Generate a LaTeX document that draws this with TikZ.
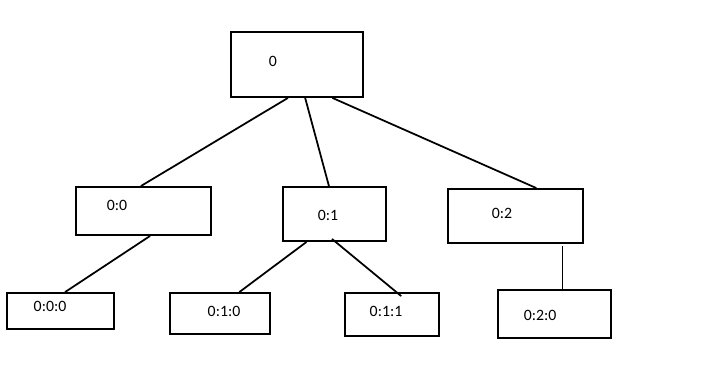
\documentclass[tikz,border=0pt]{standalone}
\usepackage{fontspec}
\setmainfont{Carlito}
\usetikzlibrary{calc}
\tikzset{
  treebox/.style={draw=black, line width=1.6pt, inner sep=0pt},
  boxtext/.style={font=\fontsize{13.5}{15}\selectfont, inner sep=0pt},
  edge/.style={line width=1.5pt, draw=black},
}

\begin{document}
\begin{tikzpicture}[x=0.03cm, y=-0.03cm]
    \useasboundingbox (0,0) rectangle (707,382);
    % boxes
    \node[treebox, minimum width=3.96cm, minimum height=1.95cm] (root) at (297,64.5) {};
    \node[treebox, minimum width=4.05cm, minimum height=1.44cm] (n00) at (143.5,211) {};
    \node[treebox, minimum width=3.09cm, minimum height=1.62cm] (n01) at (334.5,214) {};
    \node[treebox, minimum width=4.05cm, minimum height=1.62cm] (n02) at (515.5,216) {};
    \node[treebox, minimum width=3.21cm, minimum height=1.08cm] (n000) at (60.5,311) {};
    \node[treebox, minimum width=3.00cm, minimum height=1.23cm] (n010) at (220,313.5) {};
    \node[treebox, minimum width=2.82cm, minimum height=1.29cm] (n011) at (392,314.5) {};
    \node[treebox, minimum width=3.39cm, minimum height=1.44cm] (n020) at (554.5,314) {};
    % labels
    \node[boxtext] (root-t) at (273,61) {0};
    \node[boxtext] (n00-t) at (117,205) {0:0};
    \node[boxtext] (n01-t) at (328,215) {0:1};
    \node[boxtext] (n02-t) at (502,213) {0:2};
    \node[boxtext] (n000-t) at (50,306) {0:0:0};
    \node[boxtext] (n010-t) at (224,311) {0:1:0};
    \node[boxtext] (n011-t) at (386,311) {0:1:1};
    \node[boxtext] (n020-t) at (540,315) {0:2:0};
    % links
    \coordinate (n02-foot) at ($(n02.south west)!0.844!(n02.south east)+(0,2)$);
    \draw[edge] ($(root.south west)!0.432!(root.south east)$) -- ($(n00.north west)!0.481!(n00.north east)$);
    \draw[edge] ($(root.south west)!0.561!(root.south east)$) -- ($(n01.north west)!0.447!(n01.north east)$);
    \draw[edge] ($(root.south west)!0.765!(root.south east)$) -- ($(n02.north west)!0.652!(n02.north east)$);
    \draw[edge] ($(n00.south west)!0.548!(n00.south east)$) -- ($(n000.north west)!0.542!(n000.north east)$);
    \draw[edge] ($(n01.south west)!0.233!(n01.south east)$) -- ($(n010.north west)!0.69!(n010.north east)$);
    \draw[edge] ($(n01.south west)!0.476!(n01.south east)+(0,-3)$) -- ($(n011.north west)!0.596!(n011.north east)+(0,4)$);
    \draw[edge] (n02-foot) -- (n02-foot |- n020.north);
\end{tikzpicture}
\end{document}
